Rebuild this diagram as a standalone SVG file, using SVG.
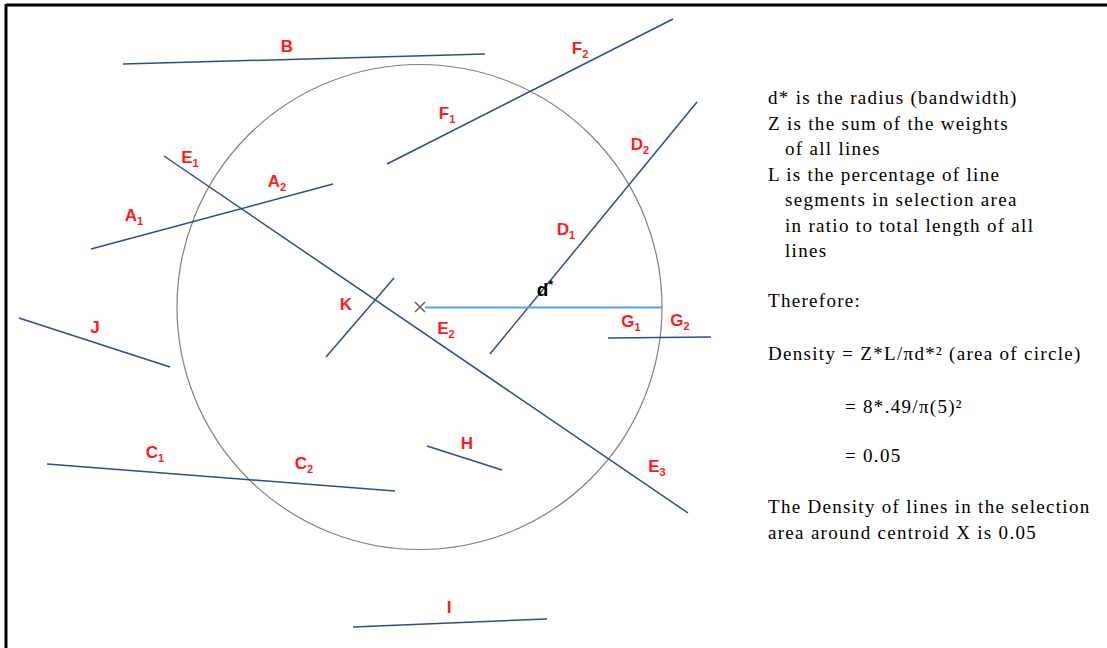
<svg xmlns="http://www.w3.org/2000/svg" width="1107" height="648" viewBox="0 0 1107 648">
<style>
.ln{stroke:#2c4d8e;stroke-width:1.5;fill:none}
.lb{font-family:"Liberation Sans",Arial,sans-serif;font-size:17px;font-weight:bold;fill:#ff1a1a;text-anchor:middle}
.sb{font-size:11px}
.tx{font-family:"Liberation Serif","Times New Roman",serif;font-size:19px;letter-spacing:1.3px;fill:#000}
</style>
<rect width="1107" height="648" fill="#fff"/>
<g id="frame">
<line x1="6" y1="5" x2="1107" y2="5" stroke="#000" stroke-width="3"/>
<line x1="6" y1="4" x2="6" y2="648" stroke="#000" stroke-width="3"/>
</g>
<g id="circle"><circle cx="419.5" cy="307" r="242.5" fill="none" stroke="#808080" stroke-width="1.2"/></g>
<g id="connectors">
<line class="ln" x1="123" y1="64" x2="485" y2="54"/>
<line class="ln" x1="387" y1="164" x2="673" y2="19"/>
<line class="ln" x1="490" y1="354" x2="697" y2="102"/>
<line class="ln" x1="164" y1="156" x2="688" y2="513"/>
<line class="ln" x1="91" y1="249" x2="333" y2="184"/>
<line class="ln" x1="326" y1="357" x2="394" y2="278"/>
<line class="ln" x1="19" y1="318" x2="170" y2="367"/>
<line class="ln" x1="608" y1="338" x2="711" y2="337"/>
<line class="ln" x1="47" y1="464" x2="395" y2="491"/>
<line class="ln" x1="427" y1="446" x2="502" y2="470"/>
<line class="ln" x1="353" y1="627" x2="547" y2="619"/>
<line x1="425" y1="307.5" x2="662" y2="307.5" stroke="#4da6f0" stroke-width="2"/>
</g>
<g id="centroid" stroke="#6b5a48" stroke-width="1.5">
<line x1="415" y1="302" x2="425" y2="312"/>
<line x1="425" y1="302" x2="415" y2="312"/>
</g>
<g id="labels">
<text class="lb" x="287" y="52">B</text>
<text class="lb" x="580" y="54">F<tspan class="sb" dy="4">2</tspan></text>
<text class="lb" x="447" y="119">F<tspan class="sb" dy="4">1</tspan></text>
<text class="lb" x="640" y="150">D<tspan class="sb" dy="4">2</tspan></text>
<text class="lb" x="190" y="163">E<tspan class="sb" dy="4">1</tspan></text>
<text class="lb" x="277" y="187">A<tspan class="sb" dy="4">2</tspan></text>
<text class="lb" x="134" y="221">A<tspan class="sb" dy="4">1</tspan></text>
<text class="lb" x="566" y="235">D<tspan class="sb" dy="4">1</tspan></text>
<text class="lb" x="545" y="296" style="fill:#000;font-size:19px">d<tspan style="font-size:12px" dy="-7">*</tspan></text>
<text class="lb" x="346" y="310">K</text>
<text class="lb" x="446" y="334">E<tspan class="sb" dy="4">2</tspan></text>
<text class="lb" x="95" y="333">J</text>
<text class="lb" x="631" y="327">G<tspan class="sb" dy="4">1</tspan></text>
<text class="lb" x="680" y="326">G<tspan class="sb" dy="4">2</tspan></text>
<text class="lb" x="155" y="458">C<tspan class="sb" dy="4">1</tspan></text>
<text class="lb" x="304" y="469">C<tspan class="sb" dy="4">2</tspan></text>
<text class="lb" x="467" y="449">H</text>
<text class="lb" x="657" y="472">E<tspan class="sb" dy="4">3</tspan></text>
<text class="lb" x="449" y="613">I</text>
</g>
<g id="notes" class="tx">
<text class="tx" x="768" y="104">d* is the radius (bandwidth)</text>
<text class="tx" x="768" y="130">Z is the sum of the weights</text>
<text class="tx" x="785" y="155">of all lines</text>
<text class="tx" x="768" y="181">L is the percentage of line</text>
<text class="tx" x="785" y="206">segments in selection area</text>
<text class="tx" x="785" y="232">in ratio to total length of all</text>
<text class="tx" x="785" y="257">lines</text>
<text class="tx" x="768" y="307">Therefore:</text>
<text class="tx" x="768" y="360">Density = Z*L/πd*² (area of circle)</text>
<text class="tx" x="845" y="413">= 8*.49/π(5)²</text>
<text class="tx" x="845" y="462">= 0.05</text>
<text class="tx" x="768" y="513">The Density of lines in the selection</text>
<text class="tx" x="768" y="539">area around centroid X is 0.05</text>
</g>
</svg>
